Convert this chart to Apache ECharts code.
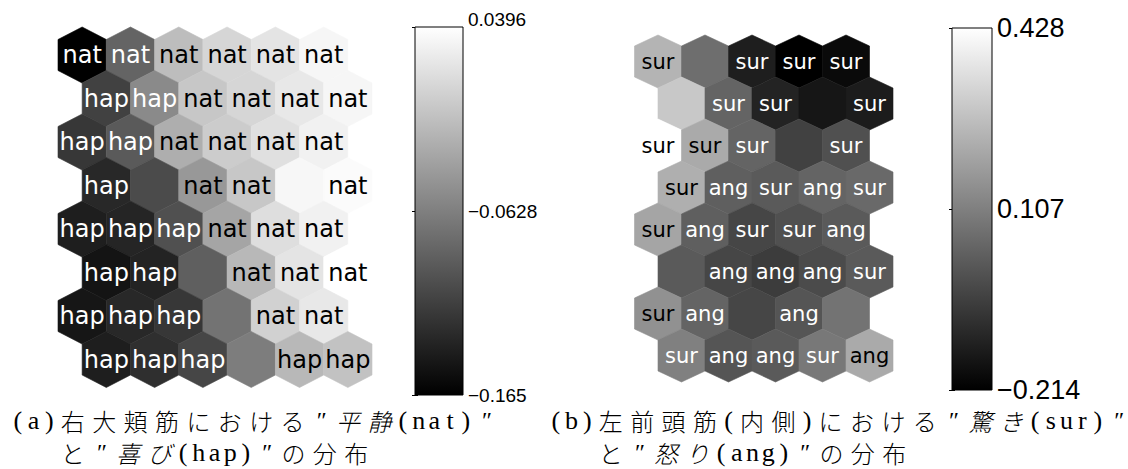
<!DOCTYPE html>
<html>
<head>
<meta charset="utf-8">
<script src="https://cdn.jsdelivr.net/npm/echarts@6/dist/echarts.min.js"></script>
<style>
  html, body { margin: 0; padding: 0; background: #fff; }
  #chart { width: 1128px; height: 469px; }
</style>
</head>
<body>
<div id="chart"></div>
<script>
// (a) Right zygomaticus major: SOM unit values (8 rows x 6 units, odd rows shifted right)
const zygValues = [
  [-0.165, -0.085, -0.013,  0.007,  0.018,  0.032],
  [-0.113, -0.054, -0.005,  0.007,  0.021,  0.032],
  [-0.121, -0.093, -0.025, -0.001,  0.015,  0.028],
  [-0.133, -0.105, -0.043, -0.005,  0.033,  0.036],
  [-0.141, -0.135, -0.101, -0.033,  0.013,  0.028],
  [-0.149, -0.137, -0.089, -0.017,  0.018,  0.0396],
  [-0.147, -0.133, -0.121, -0.073,  0.003,  0.021],
  [-0.141, -0.127, -0.109, -0.065, -0.017, -0.009]
];
const zygLabels = [
  ['nat', 'nat', 'nat', 'nat', 'nat', 'nat'],
  ['hap', 'hap', 'nat', 'nat', 'nat', 'nat'],
  ['hap', 'hap', 'nat', 'nat', 'nat', 'nat'],
  ['hap', '',    'nat', 'nat', '',    'nat'],
  ['hap', 'hap', 'hap', 'nat', 'nat', 'nat'],
  ['hap', 'hap', '',    'nat', 'nat', 'nat'],
  ['hap', 'hap', 'hap', '',    'nat', 'nat'],
  ['hap', 'hap', 'hap', '',    'hap', 'hap']
];
const zygRange = [-0.165, 0.0396];
const zygTickValues = [0.0396, -0.0627, -0.165];
const zygTickLabels = ['0.0396', '\u22120.0628', '\u22120.165'];

// (b) Left frontalis (medial): SOM unit values (8 rows x 5 units)
const frontValues = [
  [ 0.239,  0.063, -0.138, -0.214, -0.189],
  [ 0.290,  0.038, -0.126, -0.159, -0.143],
  [ 0.428,  0.214,  0.038, -0.050, -0.013],
  [ 0.227,  0.025,  0.013,  0.038,  0.050],
  [ 0.201,  0.025, -0.038, -0.013,  0.013],
  [ 0.013, -0.038, -0.063, -0.025,  0.013],
  [ 0.151,  0.038, -0.038,  0.000,  0.076],
  [ 0.108,  0.000,  0.013,  0.088,  0.214]
];
const frontLabels = [
  ['sur', '',    'sur', 'sur', 'sur'],
  ['',    'sur', 'sur', '',    'sur'],
  ['sur', 'sur', 'sur', '',    'sur'],
  ['sur', 'ang', 'sur', 'ang', 'sur'],
  ['sur', 'ang', 'sur', 'sur', 'ang'],
  ['',    'ang', 'ang', 'ang', 'sur'],
  ['sur', 'ang', '',    'ang', ''],
  ['sur', 'ang', 'ang', 'sur', 'ang']
];
const frontRange = [-0.214, 0.428];
const frontTickValues = [0.428, 0.107, -0.214];
const frontTickLabels = ['0.428', '0.107', '\u22120.214'];

// Captions: [text, italic]
const captionA1 = [['(a)右大頬筋における″', false], ['平静', true], ['(nat)″', false]];
const captionA2 = [['と″', false], ['喜び', true], ['(hap)″の分布', false]];
const captionB1 = [['(b)左前頭筋(内側)における″', false], ['驚き', true], ['(sur)″', false]];
const captionB2 = [['と″', false], ['怒り', true], ['(ang)″の分布', false]];

// Hex map series: unit (r, c) sits at x = c + 0.5*(r odd), y = r
function hexSeries(values, labels, axisIndex, hu, fontSize, range) {
  const data = [];
  const names = [];
  values.forEach((row, r) => row.forEach((v, c) => {
    data.push([c + (r % 2) * 0.5, r, v]);
    names.push(labels[r][c]);
  }));
  const shape = [[0, -hu], [0.5, -(1 - hu)], [0.5, 1 - hu], [0, hu], [-0.5, 1 - hu], [-0.5, -(1 - hu)]];
  return {
    type: 'custom',
    xAxisIndex: axisIndex,
    yAxisIndex: axisIndex,
    data: data,
    encode: { x: 0, y: 1 },
    renderItem: function (params, api) {
      const x = api.value(0), y = api.value(1), v = api.value(2);
      const pts = shape.map(d => api.coord([x + d[0], y + d[1]]));
      const color = api.visual('color');
      const center = api.coord([x, y]);
      const t = (v - range[0]) / (range[1] - range[0]);
      return {
        type: 'group',
        children: [
          { type: 'polygon', shape: { points: pts }, style: { fill: color, stroke: color, lineWidth: 0.6 } },
          {
            type: 'text', x: center[0], y: center[1], z2: 10,
            style: {
              text: names[params.dataIndex],
              fill: t < 0.55 ? '#ffffff' : '#000000',
              fontFamily: '"DejaVu Sans"', fontSize: fontSize,
              align: 'center', verticalAlign: 'middle'
            }
          }
        ]
      };
    }
  };
}

// Colour bar: one rect from min to max filled with the gray ramp
function barSeries(range, axisIndex) {
  return {
    type: 'custom',
    xAxisIndex: axisIndex,
    yAxisIndex: axisIndex,
    data: [[0, range[0], range[1]]],
    renderItem: function (params, api) {
      const top = api.coord([0, api.value(2)]);
      const bottom = api.coord([1, api.value(1)]);
      return {
        type: 'rect',
        shape: { x: top[0], y: top[1], width: bottom[0] - top[0], height: bottom[1] - top[1] },
        style: {
          fill: new echarts.graphic.LinearGradient(0, 0, 0, 1, [
            { offset: 0, color: '#ffffff' }, { offset: 1, color: '#000000' }
          ]),
          stroke: '#000', lineWidth: 1
        }
      };
    }
  };
}

// topLift: raise the label of the top tick by this many pixels
function barAxis(gridIndex, range, tickValues, tickLabels, fontSize, position, showLabels, topLift) {
  const font = { fontFamily: '"Liberation Sans"', fontSize: fontSize, lineHeight: Math.round(fontSize * 0.8), color: '#000' };
  return {
    gridIndex: gridIndex, type: 'value', min: range[0], max: range[1], position: position,
    axisLine: { show: false }, splitLine: { show: false },
    axisTick: { show: true, inside: true, length: 3, customValues: tickValues, lineStyle: { color: '#000', width: 1 } },
    axisLabel: Object.assign({
      show: showLabels, customValues: tickValues, margin: 5,
      rich: {
        n: Object.assign({}, font),
        up: Object.assign({ padding: [0, 0, 2 * (topLift || 0), 0] }, font)
      },
      formatter: function (val) {
        let best = 0;
        tickValues.forEach((tv, i) => { if (Math.abs(tv - val) < Math.abs(tickValues[best] - val)) best = i; });
        return '{' + (best === 0 && topLift ? 'up' : 'n') + '|' + tickLabels[best] + '}';
      }
    }, font)
  };
}

// Caption line -> rich text, one fixed-width cell per character
function richLine(segments) {
  return segments.map(([txt, italic]) => Array.from(txt).map(ch => {
    let key;
    if (ch === '″') key = 'q';
    else if (ch.charCodeAt(0) < 0x2000) key = 'h';
    else key = italic ? 'ci' : 'c';
    return '{' + key + '|' + ch + '}';
  }).join('')).join('');
}
const captionRich = {
  c:  { fontFamily: '"Noto Sans CJK JP"', fontSize: 24, fontWeight: 300, width: 31.4, lineHeight: 26, align: 'center', color: '#111' },
  ci: { fontFamily: '"Noto Sans CJK JP"', fontSize: 24, fontWeight: 300, fontStyle: 'italic', width: 31.4, lineHeight: 26, align: 'center', color: '#111' },
  h:  { fontFamily: '"Liberation Serif"', fontSize: 26, width: 15.7, lineHeight: 26, align: 'center', color: '#111' },
  q:  { fontFamily: '"Liberation Serif", "Noto Sans CJK JP"', fontSize: 24, fontStyle: 'italic', width: 24, lineHeight: 26, align: 'center', color: '#111' }
};
function captionText(segments, left, y) {
  return {
    type: 'text', left: left, top: y - 13,
    style: { text: richLine(segments), rich: captionRich, verticalAlign: 'top' }
  };
}

const zygHu = 28 / 43.5;
const frontHu = 26.5 / 42;

const chart = echarts.init(document.getElementById('chart'), null, { renderer: 'svg' });
chart.setOption({
  animation: false,
  backgroundColor: '#ffffff',
  grid: [
    { left: 58, top: 27, width: 314, height: 360.5 },
    { left: 415, top: 27, width: 48, height: 368 },
    { left: 634.5, top: 35, width: 258.5, height: 347 },
    { left: 952, top: 28, width: 40, height: 362 }
  ],
  xAxis: [
    { gridIndex: 0, type: 'value', min: -0.5, max: 6, show: false },
    { gridIndex: 1, type: 'value', min: 0, max: 1, show: false },
    { gridIndex: 2, type: 'value', min: -0.5, max: 5, show: false },
    { gridIndex: 3, type: 'value', min: 0, max: 1, show: false }
  ],
  yAxis: [
    { gridIndex: 0, type: 'value', inverse: true, min: -zygHu, max: 7 + zygHu, show: false },
    barAxis(1, zygRange, zygTickValues, zygTickLabels, 19, 'right', true, 8),
    { gridIndex: 2, type: 'value', inverse: true, min: -frontHu, max: 7 + frontHu, show: false },
    barAxis(3, frontRange, frontTickValues, frontTickLabels, 27, 'right', true, 0),
    barAxis(1, zygRange, zygTickValues, zygTickLabels, 19, 'left', false, 0),
    barAxis(3, frontRange, frontTickValues, frontTickLabels, 27, 'left', false, 0)
  ],
  visualMap: [
    { type: 'continuous', show: false, seriesIndex: 0, dimension: 2, min: zygRange[0], max: zygRange[1], inRange: { color: ['#000000', '#ffffff'] } },
    { type: 'continuous', show: false, seriesIndex: 2, dimension: 2, min: frontRange[0], max: frontRange[1], inRange: { color: ['#000000', '#ffffff'] } }
  ],
  series: [
    hexSeries(zygValues, zygLabels, 0, zygHu, 24, zygRange),
    barSeries(zygRange, 1),
    hexSeries(frontValues, frontLabels, 2, frontHu, 21, frontRange),
    barSeries(frontRange, 3)
  ],
  graphic: [
    captionText(captionA1, 10, 420),
    captionText(captionA2, 57, 452),
    captionText(captionB1, 548, 420),
    captionText(captionB2, 595, 452)
  ]
});
</script>
</body>
</html>
